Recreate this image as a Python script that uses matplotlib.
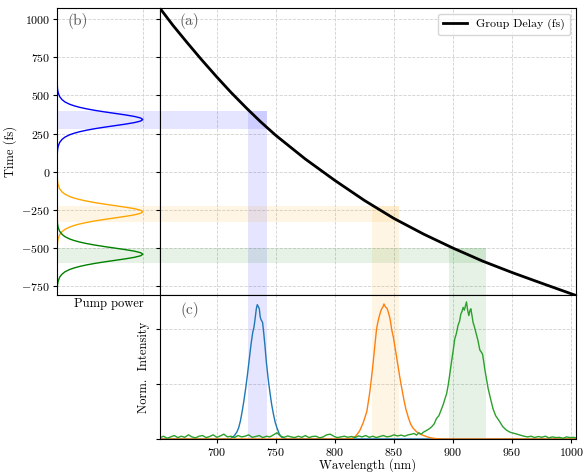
import numpy as np
import matplotlib
matplotlib.use('Agg')
import matplotlib.pyplot as plt

plt.rcParams['font.family'] = 'serif'
plt.rcParams['font.serif'] = ['cmr10']
plt.rcParams['mathtext.fontset'] = 'cm'
plt.rcParams['axes.formatter.use_mathtext'] = True
plt.rcParams['axes.unicode_minus'] = True
plt.rcParams['xtick.major.size'] = 3
plt.rcParams['ytick.major.size'] = 3
plt.rcParams['xtick.major.pad'] = 2
plt.rcParams['ytick.major.pad'] = 2

# Group delay curve (wavelength in nm, delay in fs)
gd_wl = [652, 663, 675, 687, 700, 712, 725, 737, 750, 775, 800, 825, 850,
         875, 900, 925, 950, 975, 1004]
gd_fs = [1070, 958, 845, 735, 621, 520, 418, 328, 238, 83, -57, -188, -306,
         -408, -500, -585, -660, -730, -810]

# Pump pulse shape (offset from centre in fs, normalised power)
pump_offset = [-240, -200, -175, -150, -130, -115, -100, -90, -80, -70, -60,
               -50, -40, -30, -20, -10, 0, 10, 20, 30, 40, 50, 60, 70, 80,
               90, 100, 115, 130, 150, 175, 200, 240]
pump_shape = [0.002, 0.006, 0.014, 0.031, 0.059, 0.093, 0.147, 0.198, 0.263,
              0.344, 0.441, 0.554, 0.677, 0.798, 0.903, 0.974, 1.0, 0.974,
              0.903, 0.798, 0.677, 0.554, 0.441, 0.344, 0.263, 0.198, 0.147,
              0.093, 0.059, 0.031, 0.014, 0.006, 0.002]
pump_centres = [342, -262, -540]
pump_colors = ['blue', 'orange', 'green']

# Shaded bands: time window (fs) and wavelength window (nm)
band_t = [(282, 399), (-326, -224), (-595, -497)]
band_wl = [(726.5, 742.8), (831.5, 854.5), (896.8, 927.8)]

# Measured spectra
blue_wl = [652, 705, 711, 713, 715, 717, 718.5, 720, 721.5, 723, 724.5, 726,
           727.5, 729, 730.5, 731.5, 732.5, 733.5, 734.3, 735.2, 736, 736.8,
           737.5, 738.8, 739.8, 740.8, 742, 743.5, 745, 746.5, 748, 749.5,
           751, 753, 755, 758, 761, 1004]
blue_int = [0, 0, 0, 0.01, 0.025, 0.05, 0.08, 0.13, 0.2, 0.28, 0.37, 0.47,
            0.58, 0.69, 0.78, 0.815, 0.88, 0.95, 0.98, 0.965, 0.95, 0.89,
            0.87, 0.85, 0.77, 0.68, 0.56, 0.44, 0.34, 0.25, 0.18, 0.12,
            0.08, 0.035, 0.012, 0.002, 0, 0]

orange_wl = [652, 812, 815, 818, 821, 824, 827, 829.5, 831, 832.5, 834, 835.2,
             836.5, 838, 839.5, 840.5, 841.5, 842.3, 843, 844, 845, 846,
             847, 848, 849.5, 851, 852.5, 854, 855.5, 857, 858.5, 860, 862,
             864, 866, 869, 872, 875, 880, 885, 890, 1004]
orange_int = [0, 0, 0.005, 0.025, 0.06, 0.12, 0.2, 0.34, 0.45, 0.57, 0.7,
              0.8, 0.86, 0.91, 0.95, 0.96, 0.985, 0.97, 0.96, 0.955, 0.93,
              0.9, 0.86, 0.8, 0.74, 0.66, 0.58, 0.5, 0.42, 0.35, 0.28, 0.22,
              0.16, 0.11, 0.08, 0.053, 0.035, 0.025, 0.01, 0.003, 0, 0]

green_base_wl = list(range(652, 866, 3))
green_base_int = [0.01, 0.02, 0.005, 0.015, 0.025, 0.01, 0.02, 0.012, 0.03, 0.015,
                  0.008, 0.02, 0.025, 0.01, 0.018, 0.03, 0.012, 0.022, 0.035, 0.015,
                  0.02, 0.01, 0.025, 0.015, 0.02, 0.03, 0.012, 0.018, 0.025, 0.01,
                  0.02, 0.015, 0.03, 0.045, 0.02, 0.012, 0.022, 0.015, 0.01, 0.02,
                  0.012, 0.025, 0.01, 0.018, 0.02, 0.008, 0.015, 0.03, 0.035, 0.02,
                  0.01, 0.015, 0.02, 0.012, 0.018, 0.01, 0.022, 0.015, 0.025, 0.012,
                  0.02, 0.01, 0.018, 0.025, 0.015, 0.02, 0.03, 0.022, 0.028, 0.02,
                  0.03, 0.035]
green_peak_wl = [867, 869, 871, 873, 875, 877.5, 880, 882, 884, 886, 888, 890,
                 891.6, 893, 894.5, 895.8, 897, 898.6, 900, 901.4, 902.8,
                 904.2, 905.5, 906.5, 907.5, 908.5, 909.5, 910.5, 911.3,
                 912.3, 913.3, 914.2, 915, 916, 916.9, 918, 919.8, 921, 922.6,
                 923.8, 924.9, 926, 926.8, 928, 929.6, 931.5, 933.8, 936,
                 939.5, 942, 945, 948, 952, 956, 960, 963, 966, 969, 972, 975,
                 978, 981, 984, 987, 990, 993, 996, 999, 1002, 1004]
green_peak_int = [0.04, 0.028, 0.045, 0.035, 0.05, 0.062, 0.075, 0.09, 0.11,
                  0.15, 0.17, 0.215, 0.25, 0.29, 0.33, 0.39, 0.46, 0.56,
                  0.64, 0.73, 0.77, 0.83, 0.86, 0.91, 0.93, 0.96, 0.94,
                  0.975, 1.0, 0.94, 0.9, 0.935, 0.95, 0.9, 0.85, 0.82, 0.76,
                  0.72, 0.65, 0.635, 0.62, 0.56, 0.51, 0.45, 0.37, 0.3, 0.22,
                  0.17, 0.125, 0.09, 0.065, 0.05, 0.04, 0.03, 0.02, 0.015,
                  0.02, 0.01, 0.018, 0.012, 0.02, 0.008, 0.015, 0.01, 0.012,
                  0.005, 0.015, 0.01, 0.012, 0.008]
green_wl = green_base_wl + green_peak_wl
green_int = green_base_int + green_peak_int

spec_wl = [blue_wl, orange_wl, green_wl]
spec_int = [blue_int, orange_int, green_int]
spec_colors = ['tab:blue', 'tab:orange', 'tab:green']

t_lim = (-810, 1072)
wl_lim = (652, 1004)

fig = plt.figure(figsize=(5.84, 4.72), dpi=100)
ax_b = fig.add_axes([0.0976, 0.374, 0.1764, 0.609])
ax_a = fig.add_axes([0.274, 0.374, 0.7123, 0.609], sharey=ax_b)
ax_c = fig.add_axes([0.274, 0.070, 0.7123, 0.304], sharex=ax_a)

grid_kw = dict(linestyle='--', linewidth=0.6, color='0.82')
label_color = '0.35'

# (b) pump pulses
for c, col in zip(pump_centres, pump_colors):
    t = np.array(pump_offset) + c
    ax_b.plot(pump_shape, t, color=col, lw=1)
for (t0, t1), col in zip(band_t, pump_colors):
    ax_b.axhspan(t0, t1, color=col, alpha=0.1, lw=0)
ax_b.set_xlim(0, 1.2)
ax_b.set_ylim(*t_lim)
ax_b.set_xticks([1])
ax_b.tick_params(axis='x', length=0, labelbottom=False)
ax_b.tick_params(axis='y', labelsize=8.6)
ax_b.set_yticks([-750, -500, -250, 0, 250, 500, 750, 1000])
ax_b.set_xlabel('Pump power', fontsize=9, labelpad=2)
ax_b.set_ylabel('Time (fs)', fontsize=9, labelpad=3)
ax_b.grid(True, **grid_kw)
ax_b.set_axisbelow(True)
ax_b.text(0.2, 0.955, '(b)', transform=ax_b.transAxes, fontsize=11,
          color=label_color, ha='center', va='center')

# (a) group delay
ax_a.plot(gd_wl, gd_fs, color='black', lw=2, label='Group Delay (fs)')
for (t0, t1), (w0, w1), col in zip(band_t, band_wl, pump_colors):
    ax_a.fill_betweenx([t0, t1], wl_lim[0], w1, color=col, alpha=0.1, lw=0)
    ax_a.fill_between([w0, w1], t_lim[0], t1, color=col, alpha=0.1, lw=0)
ax_a.set_xlim(*wl_lim)
ax_a.tick_params(labelleft=False, labelbottom=False)
ax_a.grid(True, **grid_kw)
ax_a.set_axisbelow(True)
ax_a.legend(loc='upper right', fontsize=8.6)
ax_a.text(0.071, 0.955, '(a)', transform=ax_a.transAxes, fontsize=11,
          color=label_color, ha='center', va='center')

# (c) spectra
for wl, inten, col in zip(spec_wl, spec_int, spec_colors):
    ax_c.plot(wl, inten, color=col, lw=1)
for (w0, w1), col in zip(band_wl, pump_colors):
    ax_c.axvspan(w0, w1, color=col, alpha=0.1, lw=0)
ax_c.set_ylim(0, 1.047)
ax_c.set_yticks([0, 0.4, 0.8])
ax_c.set_xticks([700, 750, 800, 850, 900, 950, 1000])
ax_c.tick_params(labelleft=False)
ax_c.tick_params(axis='x', labelsize=8.6)
ax_c.set_xlabel('Wavelength (nm)', fontsize=9, labelpad=0)
ax_c.set_ylabel('Norm.  Intensity', fontsize=9)
ax_c.grid(True, **grid_kw)
ax_c.set_axisbelow(True)
ax_c.text(0.071, 0.898, '(c)', transform=ax_c.transAxes, fontsize=11,
          color=label_color, ha='center', va='center')

plt.savefig('out.png', dpi=100)
plt.close()
